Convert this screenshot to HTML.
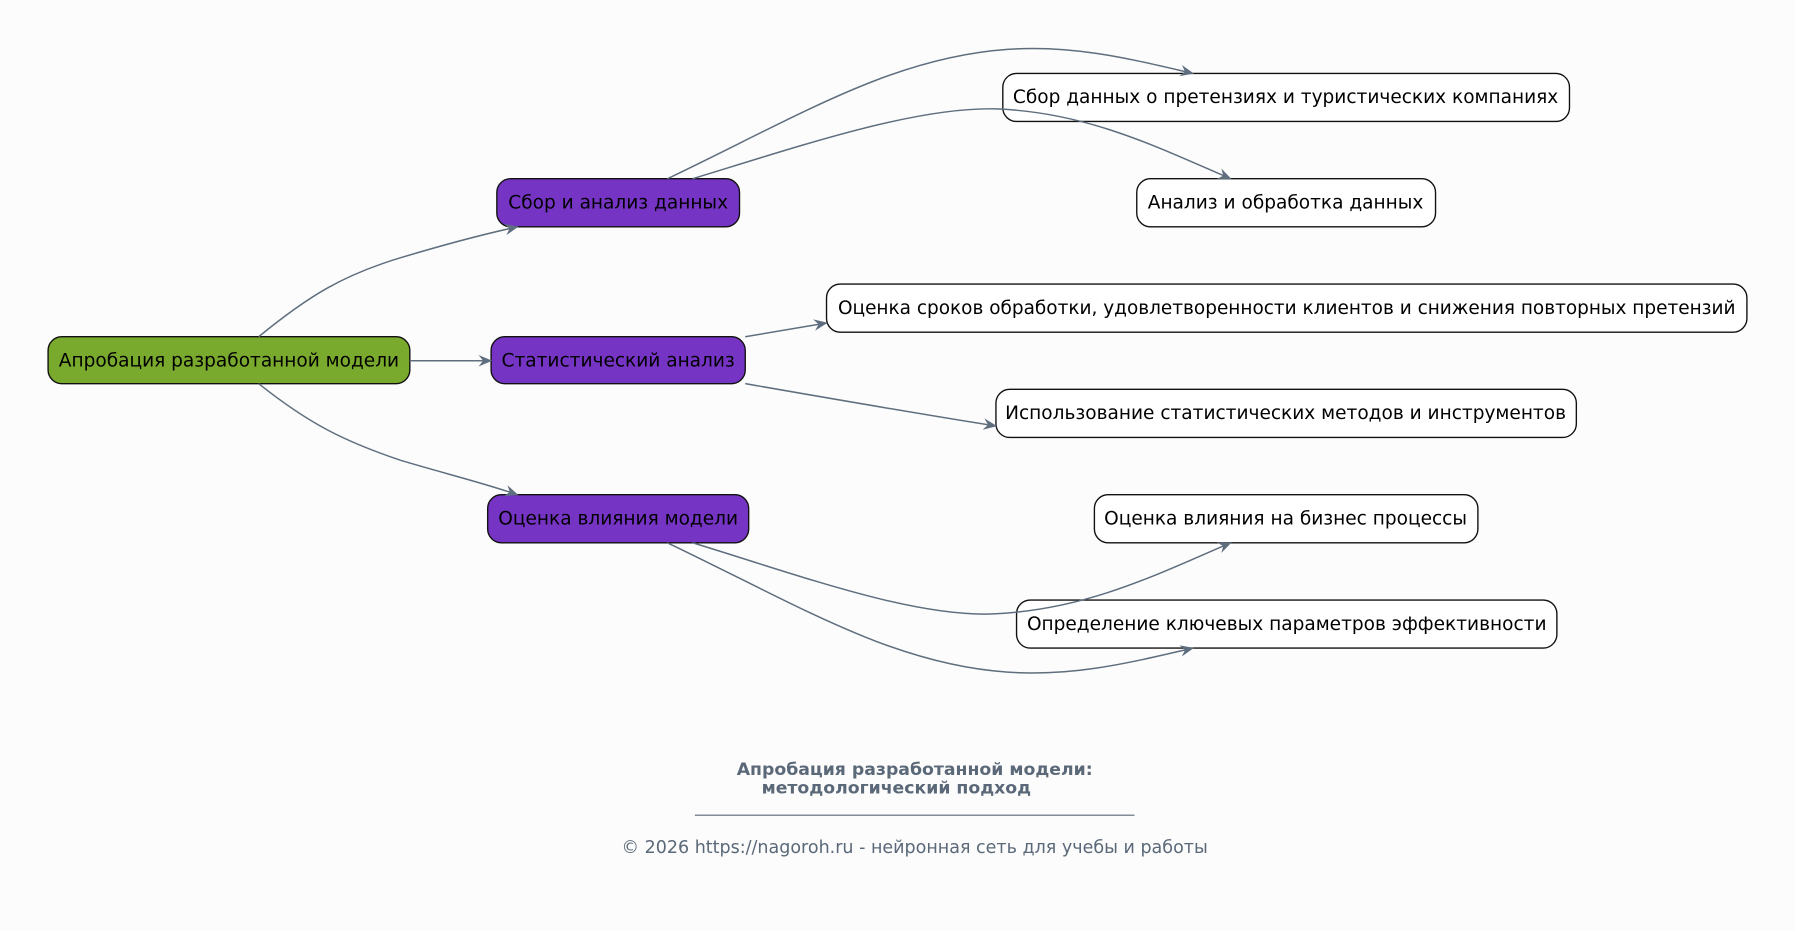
<!DOCTYPE html>
<html><head><meta charset="utf-8"><style>
html,body{margin:0;padding:0;background:#fcfcfc;}
svg{display:block;}
text{font-family:"DejaVu Sans","Liberation Sans",sans-serif;}
</style></head><body>
<svg width="1795" height="931" viewBox="0 0 1568 813" xmlns="http://www.w3.org/2000/svg">
<defs>
<marker id="a" viewBox="0 0 12 10" refX="11" refY="5" markerWidth="12" markerHeight="10" markerUnits="userSpaceOnUse" orient="auto">
<path d="M0,0 L12,5 L0,10 L4,5 z" fill="#5f6e7e"/>
</marker>
</defs>
<rect width="1568" height="813" fill="#fcfcfc"/>
<g stroke="#111" stroke-width="1.2">
<rect x="42" y="294" width="316" height="41" rx="12" fill="#79a92d"/>
<rect x="434" y="156" width="212" height="42" rx="12" fill="#7634c4"/>
<rect x="429" y="294" width="222" height="41" rx="12" fill="#7634c4"/>
<rect x="426" y="432" width="228" height="42" rx="12" fill="#7634c4"/>
<rect x="876" y="64" width="495" height="42" rx="12" fill="#fff"/>
<rect x="993" y="156" width="261" height="42" rx="12" fill="#fff"/>
<rect x="722" y="248" width="804" height="42" rx="12" fill="#fff"/>
<rect x="870" y="340" width="507" height="42" rx="12" fill="#fff"/>
<rect x="956" y="432" width="335" height="42" rx="12" fill="#fff"/>
<rect x="888" y="524" width="472" height="42" rx="12" fill="#fff"/>
</g>
<g font-size="16.2" fill="#000" text-anchor="middle" stroke="none">
<text x="200" y="320">Апробация разработанной модели</text>
<text x="540" y="182">Сбор и анализ данных</text>
<text x="540" y="320">Статистический анализ</text>
<text x="540" y="458">Оценка влияния модели</text>
<text x="1123" y="90">Сбор данных о претензиях и туристических компаниях</text>
<text x="1123" y="182">Анализ и обработка данных</text>
<text x="1124" y="274" textLength="784" lengthAdjust="spacingAndGlyphs">Оценка сроков обработки, удовлетворенности клиентов и снижения повторных претензий</text>
<text x="1123" y="366">Использование статистических методов и инструментов</text>
<text x="1123" y="458">Оценка влияния на бизнес процессы</text>
<text x="1124" y="550">Определение ключевых параметров эффективности</text>
</g>
<g fill="none" stroke="#5f6e7e" stroke-width="1.3" marker-end="url(#a)">
<path d="M226,294 C270,258 300,240 350,225 C390,213 420,205 452,198"/>
<path d="M358,315 L429,315"/>
<path d="M226,335 C270,370 300,385 350,402 C390,414 420,421 452,432"/>
<path d="M583,156 C700,100 780,50 880,43 C940,39 990,52 1042,64"/>
<path d="M605,156 C700,127 800,93 870,95 C950,98 1010,128 1075,156"/>
<path d="M651,294 L722,282"/>
<path d="M651,335 C720,347 800,361 870,372"/>
<path d="M605,474 C700,503 800,540 870,536 C950,532 1010,502 1075,474"/>
<path d="M583,474 C700,530 780,580 880,587 C940,591 990,578 1042,566"/>
</g>
<g fill="#5a6878" font-size="15.1" font-weight="bold">
<text x="799" y="677" text-anchor="middle">Апробация разработанной модели:</text>
<text x="783" y="693" text-anchor="middle">методологический подход</text>
</g>
<line x1="607" y1="712" x2="991" y2="712" stroke="#5a6878" stroke-width="1"/>
<text x="799" y="745" text-anchor="middle" font-size="15.3" fill="#5a6878">© 2026 https://nagoroh.ru - нейронная сеть для учебы и работы</text>
</svg>
</body></html>
